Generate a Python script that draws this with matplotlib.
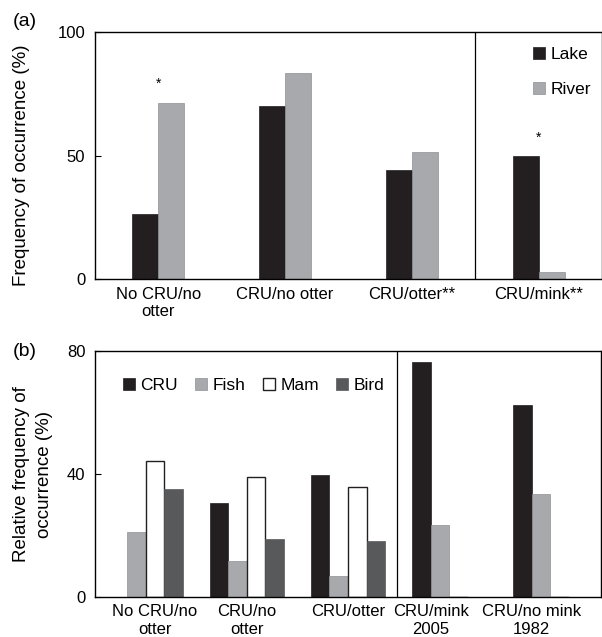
import matplotlib
matplotlib.use("Agg")
import matplotlib.pyplot as plt
import numpy as np

plt.rcParams['font.family'] = ['Liberation Sans', 'DejaVu Sans']

# panel (a)
cats_a = ["No CRU/no\notter", "CRU/no otter", "CRU/otter**", "CRU/mink**"]
lake = [26.4, 70, 44, 50]
river = [71.4, 83.2, 51.5, 3]
stars_a = [(0, 79), (3, 57)]

# panel (b)
cats_b = ["No CRU/no\notter", "CRU/no\notter", "CRU/otter", "CRU/mink\n2005", "CRU/no mink\n1982"]
cru = [0, 30.4, 39.5, 76.4, 62.4]
fish = [21.1, 11.6, 6.7, 23.4, 33.4]
mam = [44.0, 38.9, 35.8, 0, 0]
bird = [35.0, 18.8, 18.0, 0, 0]

dark = "#231f20"
grey = "#a7a9ac"
dgrey = "#58595b"

fig = plt.figure(figsize=(6.02, 6.37), dpi=100)

# ---- (a)
ax = fig.add_axes([95/602, 1-279/637, 1-95/602, (279-32)/637])
x = np.arange(len(cats_a))
w = 0.205
ax.bar(x - w/2, lake, w, color=dark, edgecolor=dark, linewidth=0.5, label="Lake")
ax.bar(x + w/2, river, w, color=grey, edgecolor="#8e9093", linewidth=0.5, label="River")
for gx, gy in stars_a:
    ax.text(gx, gy, "*", ha="center", va="center", fontsize=10)
ax.axvline(2.5, color="black", lw=0.9)
ax.set_xlim(-0.5, 3.5)
ax.set_ylim(0, 100)
ax.set_yticks([0, 50, 100])
ax.set_xticks(x)
ax.set_xticklabels(cats_a, fontsize=12, linespacing=1.2)
ax.tick_params(axis="x", length=0, pad=5.5)
ax.tick_params(axis="y", direction="in", length=4, labelsize=12, pad=7)
for s in ax.spines.values():
    s.set_linewidth(1.0)
ax.legend(loc="upper left", bbox_to_anchor=(0.864, 0.94), frameon=False, fontsize=12.5,
          borderpad=0, borderaxespad=0,
          handlelength=0.7, handleheight=0.7, handletextpad=0.3, labelspacing=1.13)
fig.text(22/602, 1-165/637, "Frequency of occurrence (%)", rotation=90,
         ha="center", va="center", fontsize=13.5)
fig.text(13/602, 1-21/637, "(a)", ha="left", va="center", fontsize=14)

# ---- (b)
bx = fig.add_axes([95/602, 1-596.7/637, 1-95/602-1/602, (596.7-350.7)/637])
xb = np.arange(len(cats_b))
wb = 0.184
offs = np.array([-1.5, -0.5, 0.5, 1.5]) * wb
series = [cru, fish, mam, bird]
bx.bar(xb + offs[0], cru, wb, color=dark, edgecolor=dark, linewidth=0.5, label="CRU")
bx.bar(xb + offs[1], fish, wb, color=grey, edgecolor="#8e9093", linewidth=0.5, label="Fish")
bx.bar(xb + offs[2], mam, wb, color="white", edgecolor=dark, linewidth=1.0, label="Mam")
bx.bar(xb + offs[3], bird, wb, color=dgrey, edgecolor=dgrey, linewidth=0.5, label="Bird")
# labels centred under the bars that are present in each group
ticks_b = []
for i in range(len(cats_b)):
    present = [offs[k] for k in range(4) if series[k][i] > 0]
    ticks_b.append(i + np.mean(present))
bx.axvline(2.48, color="black", lw=0.9)
bx.set_xlim(-0.5, 4.5)
bx.set_ylim(0, 80)
bx.set_yticks([0, 40, 80])
bx.set_xticks(ticks_b)
bx.set_xticklabels(cats_b, fontsize=12, linespacing=1.2)
bx.tick_params(axis="x", length=0, pad=5.5)
bx.tick_params(axis="y", direction="in", length=4, labelsize=12, pad=7)
for s in bx.spines.values():
    s.set_linewidth(1.0)
bx.legend(loc="upper left", bbox_to_anchor=(0.055, 0.89), ncol=4, frameon=False, fontsize=12.5,
          borderpad=0, borderaxespad=0,
          handlelength=0.7, handleheight=0.7, handletextpad=0.3, columnspacing=1.0)
fig.text(33/602, 1-474/637, "Relative frequency of\noccurrence (%)", rotation=90,
         ha="center", va="center", fontsize=13.5, linespacing=1.4)
fig.text(13/602, 1-352/637, "(b)", ha="left", va="center", fontsize=14)

fig.savefig("out.png", dpi=100)
